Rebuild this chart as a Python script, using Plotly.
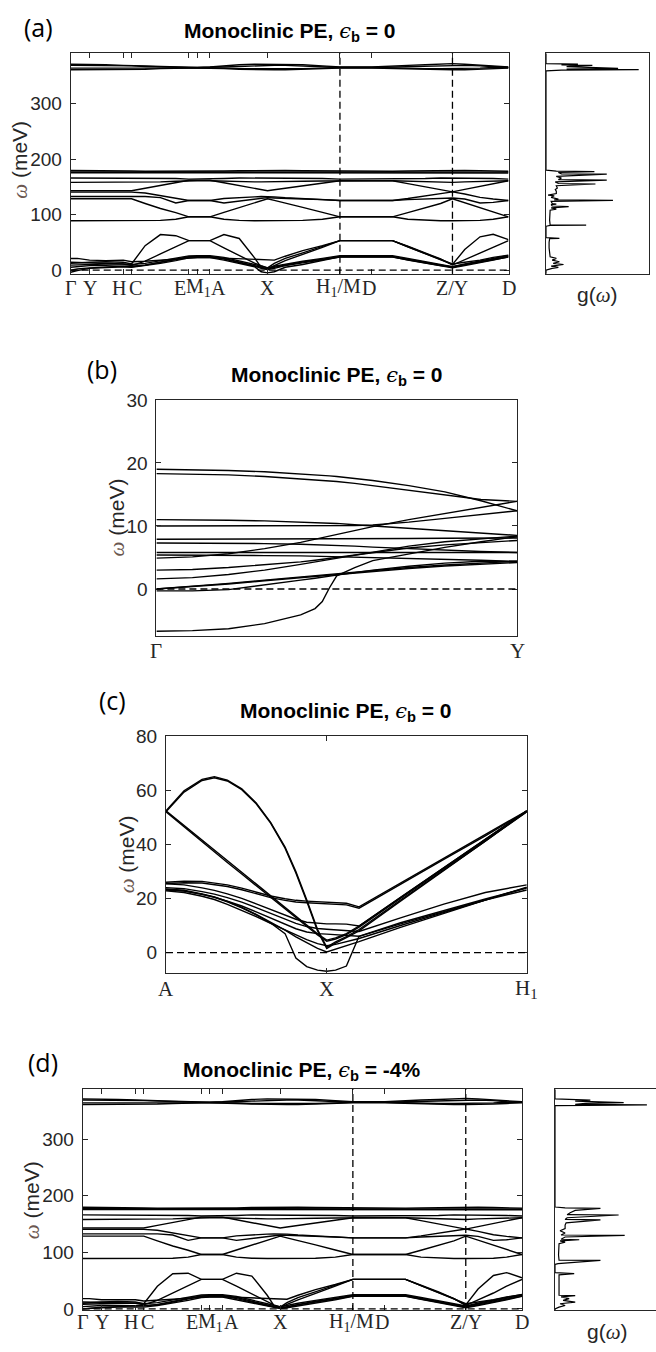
import plotly.graph_objects as go

FIG_W, FIG_H = 656, 1352

# ---------------- data: panels (a) and (d) ----------------
# positions along the k-path (fraction of total path length)
KA = [0, .015, .043, .08, .12, .139, .17, .205, .24, .27, .289, .318, .35, .385, .42, .435,
      .4496, .465, .49, .53, .575, .615, .688, .735, .77, .81, .845, .872, .90, .935, .965, 1.0]
TICK_POS = [0, .043, .12, .139, .27, .289, .318, .4496, .615, .688, .872, 1.0]
TICK_TEXT = ["Γ", "Y", "H", "C", "E", "M<sub>1</sub>", "A", "X", "H<sub>1</sub>/M", "D", "Z/Y", "D"]
TICK_SHIFT = [0, 0, -4, 4, -9, 1, 9, 0, -1, -3, 0, 0]
DASHED_K = [.615, .872]

HI_1 = [371,371,371,370,369,369,368,367,366,365,365,366,368,370,371,371,371,371,371,370,368,366,366,367,369,370,371,372,371,369,367,366]
HI_2 = [369,369,369,369,368,368,367,366,365,365,365,365,366,367,368,369,369,369,369,368,367,365,365,366,367,368,369,369,369,368,366,365]
HI_3 = [364,364,364,364,364,364,364,365,365,365,365,365,364,363,363,362,362,362,363,363,364,365,365,364,364,363,363,363,363,364,365,365]
HI_4 = [361,361,361,361,361,361,362,363,364,364,364,364,363,362,361,361,361,361,361,362,363,364,364,363,362,361,361,361,361,362,363,364]

T_1 = [179.5,179.5,179.5,179,179,178.5,178,178,177.5,177.5,177.5,178,178.5,179,179.5,180,180,180,179.5,179,178.5,178,178,178,178.5,179,179.5,180,179.5,179,178,178]
T_2 = [177,177,177,177,177,177,177,176.5,176.5,176.5,176.5,176.5,176.5,177,177,177,177,177,177,177,176.5,176.5,176.5,176.5,176.5,177,177,177,177,176.5,176.5,176.5]
T_3 = [175.5,175.5,175.5,175.5,175.5,175.5,175.5,175,175,175,175,175,175,175.5,175.5,175.5,175.5,175.5,175.5,175.5,175,175,175,175,175,175.5,175.5,175.5,175.5,175,175,175]

U_1 = [166,166,166,166,166,166,166,166,165,164,164,164,165,166,166,166,166,166,166,166,165,164,164,164,165,165,166,166,166,166,165,164]
U_2 = [158,158,158,158,158,158,158,159,160,161,161,161,160,159.5,159,159,159,159,159.5,160,160.5,161,161,161,160.5,160,159,158,159,160,160.5,161]
U_3 = [143,143,143,143,143,143,147.5,152.5,157.5,162,162,162,157.4,152.3,147.3,145.1,143,144.7,147.4,151.8,156.6,161,161,161,155.9,150,144.9,141,145.4,150.8,155.5,161]

V_1 = [140.5,140.5,140.5,140.5,140.5,140.5,139,134,129,125.5,125.5,125.5,129,131,132,132.5,132.5,132,130.5,128.5,127,125.5,125.5,125.5,129,134,138,141,137,131,128,125.5]
V_2 = [132.5,132.5,132.5,132.5,132.5,132.5,132.5,130.5,121,125.5,125.5,125.5,121,124,128,129.5,130.5,130,129,128,127,125.5,125.5,125.5,127,128.5,129.5,130,128,121,122,125.5]
V_3 = [128.5,128.5,128.5,128.5,128.5,128.5,120,111,103.5,96,96,96,104,112.5,121,124.5,128.5,125.5,121,113,104,96,96,96,103.5,112,120,128.5,121.5,112.5,104.5,96]
V_4 = [89,89,89,89,89,89,89,89.5,91.5,96,96,96,91.5,89.5,89,89,89,89,89,89.5,91.5,96,96,96,91.5,89.5,89,89,89,89.5,91.5,96]

# low-frequency branches, panel (a)
LA_ARCH = [12,13,14,15,14,11,44,64,62,53,53,53,64,57,22,5,1,8,17,28,41,53,53,53,42,30,19,10,37,60,64.5,55]
LA_STR = [14,13.5,13,12,11,8,16,29,42,53,53,53,40,26,12.5,8,4,12,21,31,42,53,53,53,43,31,20,9,18.5,30.5,41,53]
LA_20 = [21,21,18,17,18,15,16,18,20,22,22.5,22.5,21.5,20,19,18.5,18,18,25,35,44,53,53,53,42,30,19,11,14,18,23,27]
LA_25A = [9,9.5,10,11,11,10,12,17,22,25.5,26,26,23,17,10,7,4,7,11,16,21,26,26,26,21,15.5,10.5,6,11,16.5,21.5,26.5]
LA_25B = [5,6,8,8,7,6,9,14,20,24,24.5,24.5,21,15,8,5,2,5,9,14.5,19.5,24.5,24.5,24.5,19.5,14,9,5,9.5,15,20,25]
LA_AC = [-4,-1,3,5,6,5,8,12,17,22,22.5,22.5,18,12,6,-3,-5,-3,5,10,17,24,24,24,18,12,7,4,8,13,18,24]
LA_AC2 = [0,2,4,6,7,7,9,14,19,23.5,24,24,20,14,7,3,1,3,8,13,18.5,23.5,23.5,23.5,18.5,13,8,6,10,14,19,23.5]

# low-frequency branches, panel (d)
LD_ARCH = [10,11,12,13,12,9,40,62,63,52,52,52,63,58,24,6,2,8,16,27,40,52,52,52,41,29,18,7,35,59,64,55]
LD_STR = [12,12,11,11,10,7,15,28,41,52,52,52,40,26,12,7,3,11,20,30,41,52,52,52,42,30,18,6,16,28,40,52]
LD_20 = [18,18,16,16,16,14,15,17,19,21,21.5,21.5,20.5,19,18,17.5,17,17,24,34,43,52,52,52,41,29,18,9,12,16,21,25]
LD_25A = [8,8.5,9,10,10,9,11,16,21,24.5,25,25,22,16,9,6,4,6,10,15,20,25,25,25,20,14.5,9.5,5,10,15.5,20.5,25.5]
LD_25B = [4,5,6,6,6,5,8,13,19,23,23.5,23.5,20,14,7,4,2,4,8,13.5,18.5,23.5,23.5,23.5,18.5,13,8,4,8.5,14,19,24]
LD_AC = [0,1,2,3,3,3,6,10,15,20,21,21,16,10,5,2,0.5,2,5,10,16,22,22,22,17,11,6,2,6,11,16,22]
LD_AC2 = [0,1.5,3,4,5,5,7,12,17,22,22.5,22.5,18,12,6,3,1,3,7,12,17.5,22.5,22.5,22.5,17.5,12,7,3,7,12,17,22.5]

COMMON_BANDS = [HI_1, HI_2, HI_3, HI_4, T_1, T_2, T_3, U_1, U_2, U_3, V_1, V_2, V_3, V_4]
LOW_A = [LA_ARCH, LA_STR, LA_20, LA_25A, LA_25B, LA_AC, LA_AC2]
LOW_D = [LD_ARCH, LD_STR, LD_20, LD_25A, LD_25B, LD_AC, LD_AC2]

# phonon DOS g(w): (omega, g) pairs
DOS_A = [(-7,0),(0,0),(3,.06),(5,.12),(7,.05),(10,.17),(12,.07),(15,.13),(18,.06),(21,.1),(24,.04),
         (30,.035),(40,.03),(50,.03),(56.5,.035),(57.2,.13),(57.7,.03),(58.5,0),(79,0),(80.6,.04),
         (81.1,.39),(81.6,.04),(90,.035),(100,.035),(108,.04),(110,.1),(112,.05),(114.5,.22),
         (115.5,.06),(118,.05),(119,.1),(120,.06),(124,.05),(125.6,.65),(126.5,.08),(128,.12),
         (131,.05),(134,.08),(135,.02),(138,.1),(142,.1),(145,.09),(148,.11),(152,.1),(155.1,.48),
         (156,.12),(159,.09),(162.2,.59),(163,.12),(166,.15),(169,.1),(172.9,.59),(173.5,.15),
         (176,.12),(177.6,.47),(178.5,.1),(180,0),(359,0),(360.5,.15),(361.2,.9),(362,.2),
         (363.5,.7),(364,.6),(365,.3),(366.5,.2),(368.2,.31),(369,.45),(370,.15),(371.2,.31),
         (372,0),(391,0)]
DOS_D = [(-2,0),(0,0),(3,.04),(6,.1),(9,.05),(12,.2),(15,.08),(18,.14),(21,.06),(23.2,.2),(24,.04),
         (30,.04),(40,.035),(50,.035),(60,.04),(62.1,.19),(63,.04),(63.9,0),(78.5,0),(80,.03),
         (85.5,.45),(86,.04),(95,.035),(105,.04),(115,.04),(118,.1),(120,.05),(122.1,.24),(123,.06),
         (127,.1),(129.7,.69),(130.5,.06),(134,.1),(138,.05),(142,.1),(148,.1),(152,.11),(157.1,.45),
         (158,.1),(161,.12),(165.8,.63),(166.5,.12),(170,.15),(174,.2),(177.4,.45),(178.5,.1),
         (180,0),(359,0),(360.4,.91),(361.5,.2),(363,.3),(364.4,.68),(365.5,.3),(367,.2),(369,.35),
         (370,.1),(371,0),(388,0)]

# ---------------- data: panel (b)  Gamma -> Y ----------------
KB = [0, .1, .2, .3, .4, .44, .46, .48, .5, .55, .6, .7, .8, .9, 1.0]
BANDS_B = [
    [19.0,18.95,18.8,18.6,18.3,18.15,18.05,17.95,17.85,17.55,17.2,16.4,15.4,14.0,12.4],
    [18.3,18.25,18.1,17.85,17.5,17.35,17.25,17.15,17.05,16.75,16.4,15.7,14.9,14.2,13.9],
    [4.9,5.1,5.6,6.4,7.4,7.9,8.2,8.5,8.7,9.3,9.9,11.0,12.0,13.0,13.9],
    [10.0,10.0,10.0,10.0,10.0,10.0,10.0,10.0,10.0,10.05,10.15,10.6,11.2,11.8,12.4],
    [11.0,10.98,10.9,10.8,10.65,10.55,10.5,10.45,10.4,10.2,10.0,9.6,9.2,8.8,8.5],
    [7.9,7.9,7.9,7.9,7.9,7.9,7.9,7.9,7.95,7.95,8.0,8.0,8.05,8.1,8.1],
    [7.3,7.3,7.25,7.2,7.1,7.05,7.0,6.95,6.9,6.8,6.65,6.4,6.15,5.95,5.8],
    [5.8,5.8,5.8,5.75,5.7,5.7,5.7,5.7,5.7,5.7,5.7,5.75,5.75,5.8,5.8],
    [5.4,5.4,5.35,5.3,5.25,5.2,5.2,5.15,5.1,5.05,5.0,4.85,4.7,4.55,4.4],
    [3.0,3.1,3.4,3.8,4.3,4.55,4.7,4.85,5.0,5.4,5.8,6.5,7.0,7.4,7.7],
    [1.6,1.8,2.3,3.0,3.9,4.3,4.5,4.7,4.9,5.4,5.9,6.8,7.5,8.0,8.4],
    [0,0.35,0.8,1.3,1.8,2.0,2.1,2.2,2.3,2.55,2.8,3.25,3.65,3.95,4.2],
    [0,0.4,0.9,1.4,1.9,2.1,2.2,2.35,2.45,2.7,2.95,3.4,3.8,4.1,4.4],
    [-0.3,-0.3,-0.1,0.6,1.4,1.7,1.9,2.05,2.2,2.6,3.0,3.6,4.1,4.4,4.3],
    [-6.7,-6.6,-6.3,-5.5,-4.1,-3.1,-2.0,0.2,2.1,3.4,4.5,5.6,6.6,7.5,8.3],
]

# ---------------- data: panel (c)  A -> X -> H1 ----------------
KC = [0, .05, .1, .134, .17, .21, .25, .29, .33, .36, .39, .42, .4455, .47, .5, .535, .65, .77, .885, 1.0]
BANDS_C = [
    [52.4,59.8,64.0,65.0,63.7,60.5,55.3,48.1,39.0,29.9,19.5,8.5,2.0,3.9,5.9,8.5,19.4,30.7,41.2,52.4],
    [52.0,59.3,63.6,64.6,63.4,60.2,55.0,47.8,38.6,29.4,19.0,8.0,1.5,3.5,5.5,8.0,19.0,30.3,40.9,52.0],
    [52.4,47.0,41.6,37.9,33.9,29.6,25.2,21.0,16.6,13.3,10.1,6.9,4.6,5.4,7.0,9.8,20.4,31.4,41.9,52.4],
    [52.0,46.4,41.0,37.3,33.3,29.0,24.7,20.5,16.2,12.9,9.7,6.5,4.2,5.0,6.6,9.4,20.0,31.0,41.5,52.0],
    [26.0,26.4,26.3,25.7,25.0,23.8,22.3,20.9,19.9,19.3,19.0,18.8,18.6,18.5,18.2,16.9,25.7,34.7,43.4,52.4],
    [25.5,25.8,25.7,25.2,24.4,23.2,21.7,20.3,19.3,18.7,18.4,18.2,18.0,17.9,17.6,16.4,25.3,34.4,43.1,52.2],
    [25.4,25.0,23.9,23.0,21.7,20.0,18.0,15.9,13.8,12.3,11.2,10.8,10.6,10.6,10.5,9.8,20.4,31.4,41.9,52.4],
    [24.0,23.6,22.5,21.6,20.3,18.6,16.6,14.5,12.3,10.8,9.6,8.9,8.6,8.4,8.2,7.8,12.8,17.9,22.2,25.0],
    [23.1,22.7,21.5,20.5,19.0,17.2,15.0,12.7,10.4,8.8,7.6,7.0,6.8,6.6,6.3,6.0,10.6,15.2,19.4,23.1],
    [22.8,22.2,20.8,19.6,17.8,15.7,13.3,10.8,8.3,6.4,4.8,3.3,2.5,3.0,4.0,5.2,10.0,14.8,19.4,24.0],
    [23.5,23.0,21.7,20.6,18.9,16.7,14.1,11.3,8.3,5.8,3.5,1.5,0.2,1.2,2.5,4.0,9.3,14.6,19.4,24.2],
    [23.3,22.8,21.5,20.4,18.7,16.5,13.9,10.9,7.0,-2.0,-5.2,-6.5,-6.9,-6.5,-5.0,6.0,11.0,15.5,19.8,23.8],
]

TITLE_A = "Monoclinic PE, "
STRAIN = ["0", "0", "0", "-4%"]
Y_TICKS_MAIN = [0, 100, 200, 300]
Y_TICKS_B = [0, 10, 20, 30]
Y_TICKS_C = [0, 20, 40, 60, 80]

# ---------------- layout geometry (pixels: left, top, right, bottom) ----------------
BOX = {
    "a": (70.7, 44, 508.5, 267.7),
    "ad": (546, 44, 649, 267.7),
    "b": (156.4, 395.7, 517, 635.7),
    "c": (166, 737, 526.8, 977),
    "d": (82.7, 1095.5, 522, 1319.5),
    "dd": (555, 1095.5, 656, 1319.5),
}
AX = {"a": 1, "ad": 2, "b": 3, "c": 4, "d": 5, "dd": 6}
YR = {"a": [-6.6, 390.6], "ad": [-6.6, 390.6], "b": [-7.5, 30], "c": [-7.4, 80],
      "d": [-2, 388], "dd": [-2, 388]}

INK = "#262626"
SANS = "Liberation Sans"
SERIF = "Liberation Serif"


def px(x):
    return x / FIG_W


def py(y):
    return 1 - y / FIG_H


def axname(key, letter):
    n = AX[key]
    return letter if n == 1 else f"{letter}{n}"


fig = go.Figure()


def add_band(key, xs, ys, width=1.4):
    fig.add_trace(go.Scatter(
        x=xs, y=ys, mode="lines",
        line=dict(color="black", width=width),
        xaxis=axname(key, "x"), yaxis=axname(key, "y"),
        hoverinfo="skip", showlegend=False))


for b in COMMON_BANDS + LOW_A:
    add_band("a", KA, b)
for b in COMMON_BANDS + LOW_D:
    add_band("d", KA, b)
for b in BANDS_B:
    add_band("b", KB, b)
for b in BANDS_C:
    add_band("c", KC, b)
add_band("ad", [g for w, g in DOS_A], [w for w, g in DOS_A], 1.2)
add_band("dd", [g for w, g in DOS_D], [w for w, g in DOS_D], 1.2)

layout = dict(width=FIG_W, height=FIG_H, margin=dict(l=0, r=0, t=0, b=0),
              paper_bgcolor="white", plot_bgcolor="white", showlegend=False)


def make_axes(key, xticks, yticks, xmirror=True, ymirror=True, show_yticks=True):
    l, t, r, btm = BOX[key]
    n = AX[key]
    xa = dict(domain=[px(l), min(px(r), 1.0)], range=[0, 1], showgrid=False, zeroline=False,
              showline=True, linecolor=INK, linewidth=1, mirror="allticks" if xmirror else False,
              ticks="inside" if xticks else "", ticklen=5, tickcolor=INK, tickwidth=1,
              tickvals=xticks if xticks else [], showticklabels=False,
              anchor=axname(key, "y"), fixedrange=True)
    ya = dict(domain=[py(btm), py(t)], range=YR[key], showgrid=False, zeroline=False,
              showline=True, linecolor=INK, linewidth=1,
              mirror=("allticks" if ymirror else False),
              ticks="inside" if show_yticks else "", ticklen=5, tickcolor=INK, tickwidth=1,
              tickvals=yticks if show_yticks else [], showticklabels=show_yticks,
              tickfont=dict(family=SANS, size=19, color=INK), ticklabelstandoff=4,
              anchor=axname(key, "x"), fixedrange=True)
    sfx = "" if n == 1 else str(n)
    layout["xaxis" + sfx] = xa
    layout["yaxis" + sfx] = ya


make_axes("a", TICK_POS, Y_TICKS_MAIN)
make_axes("ad", None, None, show_yticks=False)
make_axes("b", [0, 1], Y_TICKS_B)
make_axes("c", [0, KC[12], 1], Y_TICKS_C)
make_axes("d", TICK_POS, Y_TICKS_MAIN)
make_axes("dd", None, None, ymirror=False, show_yticks=False)
layout["yaxis6"]["mirror"] = False
layout["xaxis6"]["mirror"] = True

shapes = []
for key in ["a", "b", "c", "d"]:
    shapes.append(dict(type="line", xref=axname(key, "x"), yref=axname(key, "y"),
                       x0=0, x1=1, y0=0, y1=0,
                       line=dict(color="black", width=1.3, dash="7px,4px")))
for key in ["a", "d"]:
    for k in DASHED_K:
        shapes.append(dict(type="line", xref=axname(key, "x"), yref=axname(key, "y") + " domain",
                           x0=k, x1=k, y0=0, y1=1,
                           line=dict(color="black", width=1.3, dash="7px,4px")))
layout["shapes"] = shapes

ann = []


def text(x, y, s, size=18, family=SANS, color=INK, **kw):
    ann.append(dict(x=px(x), y=py(y), xref="paper", yref="paper", text=s, showarrow=False,
                    font=dict(family=family, size=size, color=color),
                    xanchor="center", yanchor="middle", **kw))


# panel letters
for lbl, x, y in [("(a)", 38, 17), ("(b)", 102, 364), ("(c)", 112, 700), ("(d)", 43, 1068)]:
    text(x, y, lbl, size=25, family="Open Sans", color="black")

# titles
EPS = "<span style='font-family:DejaVu Serif;font-weight:normal'><i>ϵ</i></span>"
for (x, y), s in zip([(289.6, 22), (336.7, 372), (346.4, 713), (302.3, 1077)], STRAIN):
    text(x, y, "<b>" + TITLE_A + "</b>" + EPS + "<sub><b>b</b></sub><b> = " + s + "</b>",
         size=21, color="black")

# y-axis titles
YT = "<span style='font-family:Liberation Serif;color:#6b5750'><i>ω</i></span> (meV)"
for x, y in [(20, 152), (117, 515), (127, 857), (32, 1208)]:
    text(x, y, YT, size=21, textangle=-90)

# DOS labels
GW = "g(<span style='font-family:Liberation Serif'><i>ω</i></span>)"
text(597, 289, GW, size=21)
text(607, 1342, GW, size=21)

# k-point labels
for key, ylab in [("a", 282), ("d", 1332)]:
    for k, s, sh in zip(TICK_POS, TICK_TEXT, TICK_SHIFT):
        ann.append(dict(x=k, y=py(ylab), xref=axname(key, "x"), yref="paper", text=s,
                        showarrow=False, xshift=sh, xanchor="center", yanchor="middle",
                        font=dict(family=SERIF, size=20, color=INK)))
for key, ylab, ks, ss in [("b", 651, [0, 1], ["Γ", "Y"]),
                          ("c", 994, [0, KC[12], 1], ["A", "X", "H<sub>1</sub>"])]:
    for k, s in zip(ks, ss):
        ann.append(dict(x=k, y=py(ylab), xref=axname(key, "x"), yref="paper", text=s,
                        showarrow=False, xanchor="center", yanchor="middle",
                        font=dict(family=SERIF, size=21, color=INK)))

layout["annotations"] = ann
fig.update_layout(**layout)
fig.write_html("out.html", config={"displayModeBar": False, "staticPlot": True},
               post_script="document.body.style.margin='0px';document.body.style.overflow='hidden';")
